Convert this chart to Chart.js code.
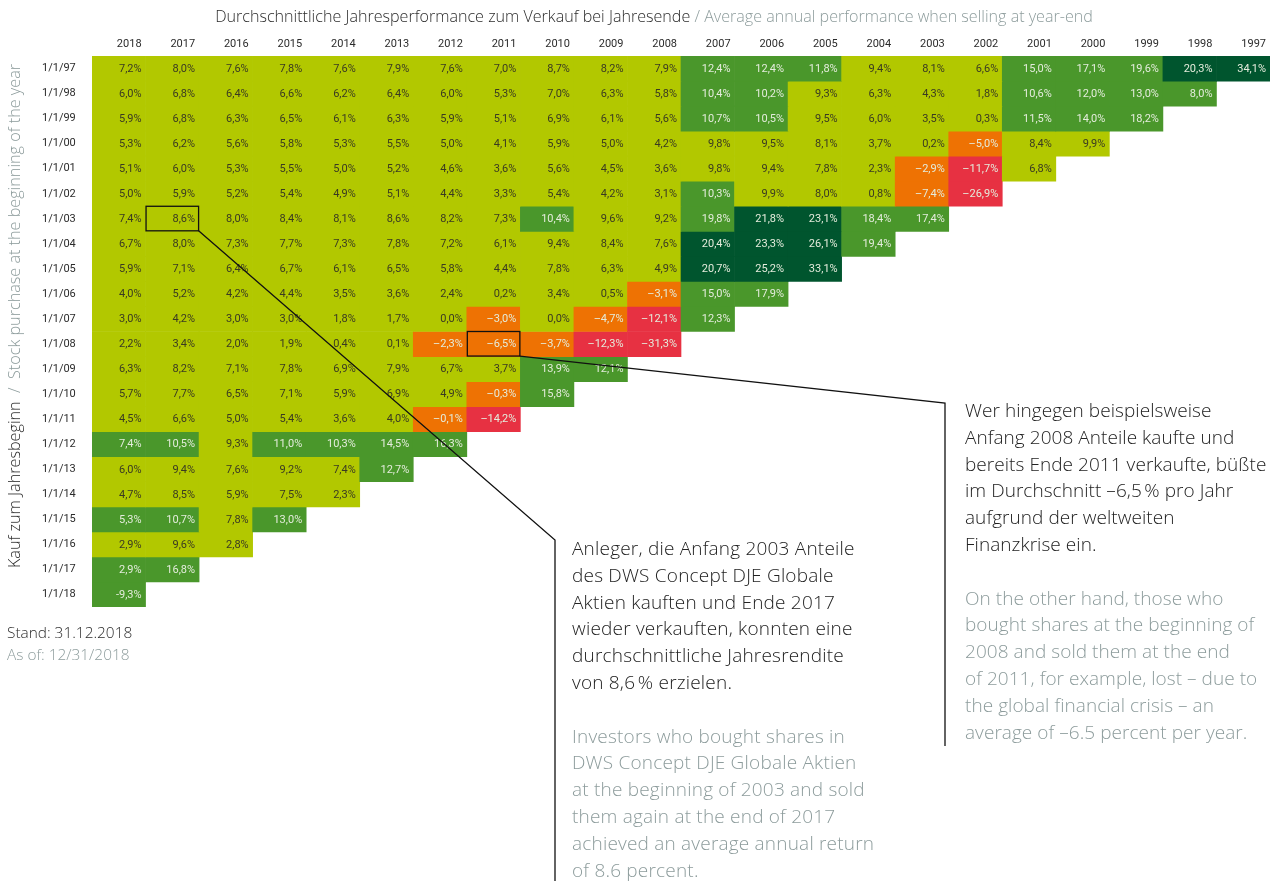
<!DOCTYPE html>
<html>
<head>
<meta charset="utf-8">
<script src="https://cdn.jsdelivr.net/npm/chart.js@4.4.1/dist/chart.umd.min.js"></script>
<style>
  html, body { margin: 0; padding: 0; background: #fff; }
  body { width: 1279px; height: 881px; position: relative; overflow: hidden; font-family: "Open Sans", Roboto, sans-serif; }
  #c { position: absolute; left: 0; top: 0; }
  .gray { color: #8d9c9c; }
  #title { position: absolute; left: 0; width: 1308px; top: 5px; text-align: center; font-size: 16.1px; font-weight: 300; color: #2b2b2b; white-space: nowrap; }
  #ytitle { position: absolute; left: -266px; top: 306px; width: 560px; height: 20px; line-height: 20px; text-align: center; font-size: 16.2px; font-weight: 300; transform: rotate(-90deg); transform-origin: 50% 50%; white-space: nowrap; color: #2b2b2b; }
  #stand { position: absolute; left: 7px; top: 622px; font-size: 15.4px; font-weight: 300; line-height: 22px; color: #2b2b2b; }
  .note { position: absolute; font-size: 19px; font-weight: 300; line-height: 26.8px; color: #222; white-space: nowrap; letter-spacing: 0.2px; }
  .note p { margin: 0 0 26.8px 0; }
  #note1 { left: 572px; top: 535px; }
  #note2 { left: 965px; top: 397px; letter-spacing: 0.05px; }
</style>
</head>
<body>
<canvas id="c" width="1279" height="881"></canvas>
<div id="title">Durchschnittliche Jahresperformance zum Verkauf bei Jahresende<span class="gray"> / Average annual performance when selling at year-end</span></div>
<div id="ytitle">Kauf zum Jahresbeginn<span class="gray">&nbsp; / &nbsp;Stock purchase at the beginning of the year</span></div>
<div id="stand">Stand: 31.12.2018<br><span class="gray">As of: 12/31/2018</span></div>
<div class="note" id="note1"><p>Anleger, die Anfang 2003 Anteile<br>des DWS Concept DJE Globale<br>Aktien kauften und Ende 2017<br>wieder verkauften, konnten eine<br>durchschnittliche Jahresrendite<br>von 8,6&#8239;% erzielen.</p><p class="gray">Investors who bought shares in<br>DWS Concept DJE Globale Aktien<br>at the beginning of 2003 and sold<br>them again at the end of 2017<br>achieved an average annual return<br>of 8.6 percent.</p></div>
<div class="note" id="note2"><p>Wer hingegen beispielsweise<br>Anfang 2008 Anteile kaufte und<br>bereits Ende 2011 verkaufte, büßte<br>im Durchschnitt –6,5&#8239;% pro Jahr<br>aufgrund der weltweiten<br>Finanzkrise ein.</p><p class="gray">On the other hand, those who<br>bought shares at the beginning of<br>2008 and sold them at the end<br>of 2011, for example, lost – due to<br>the global financial crisis – an<br>average of –6.5 percent per year.</p></div>
<script>
// Sell years (columns) and purchase dates (rows)
const sellYears = ['2018','2017','2016','2015','2014','2013','2012','2011','2010','2009','2008','2007','2006','2005','2004','2003','2002','2001','2000','1999','1998','1997'];
const buyLabels = ['1/1/97','1/1/98','1/1/99','1/1/00','1/1/01','1/1/02','1/1/03','1/1/04','1/1/05','1/1/06','1/1/07','1/1/08','1/1/09','1/1/10','1/1/11','1/1/12','1/1/13','1/1/14','1/1/15','1/1/16','1/1/17','1/1/18'];

// Average annual performance (%) per purchase year, ordered by sell year 2018 -> purchase year
const buy1997 = [7.2, 8.0, 7.6, 7.8, 7.6, 7.9, 7.6, 7.0, 8.7, 8.2, 7.9, 12.4, 12.4, 11.8, 9.4, 8.1, 6.6, 15.0, 17.1, 19.6, 20.3, 34.1];
const buy1998 = [6.0, 6.8, 6.4, 6.6, 6.2, 6.4, 6.0, 5.3, 7.0, 6.3, 5.8, 10.4, 10.2, 9.3, 6.3, 4.3, 1.8, 10.6, 12.0, 13.0, 8.0];
const buy1999 = [5.9, 6.8, 6.3, 6.5, 6.1, 6.3, 5.9, 5.1, 6.9, 6.1, 5.6, 10.7, 10.5, 9.5, 6.0, 3.5, 0.3, 11.5, 14.0, 18.2];
const buy2000 = [5.3, 6.2, 5.6, 5.8, 5.3, 5.5, 5.0, 4.1, 5.9, 5.0, 4.2, 9.8, 9.5, 8.1, 3.7, 0.2, -5.0, 8.4, 9.9];
const buy2001 = [5.1, 6.0, 5.3, 5.5, 5.0, 5.2, 4.6, 3.6, 5.6, 4.5, 3.6, 9.8, 9.4, 7.8, 2.3, -2.9, -11.7, 6.8];
const buy2002 = [5.0, 5.9, 5.2, 5.4, 4.9, 5.1, 4.4, 3.3, 5.4, 4.2, 3.1, 10.3, 9.9, 8.0, 0.8, -7.4, -26.9];
const buy2003 = [7.4, 8.6, 8.0, 8.4, 8.1, 8.6, 8.2, 7.3, 10.4, 9.6, 9.2, 19.8, 21.8, 23.1, 18.4, 17.4];
const buy2004 = [6.7, 8.0, 7.3, 7.7, 7.3, 7.8, 7.2, 6.1, 9.4, 8.4, 7.6, 20.4, 23.3, 26.1, 19.4];
const buy2005 = [5.9, 7.1, 6.4, 6.7, 6.1, 6.5, 5.8, 4.4, 7.8, 6.3, 4.9, 20.7, 25.2, 33.1];
const buy2006 = [4.0, 5.2, 4.2, 4.4, 3.5, 3.6, 2.4, 0.2, 3.4, 0.5, -3.1, 15.0, 17.9];
const buy2007 = [3.0, 4.2, 3.0, 3.0, 1.8, 1.7, 0.0, -3.0, 0.0, -4.7, -12.1, 12.3];
const buy2008 = [2.2, 3.4, 2.0, 1.9, 0.4, 0.1, -2.3, -6.5, -3.7, -12.3, -31.3];
const buy2009 = [6.3, 8.2, 7.1, 7.8, 6.9, 7.9, 6.7, 3.7, 13.9, 12.1];
const buy2010 = [5.7, 7.7, 6.5, 7.1, 5.9, 6.9, 4.9, -0.3, 15.8];
const buy2011 = [4.5, 6.6, 5.0, 5.4, 3.6, 4.0, -0.1, -14.2];
const buy2012 = [7.4, 10.5, 9.3, 11.0, 10.3, 14.5, 16.3];
const buy2013 = [6.0, 9.4, 7.6, 9.2, 7.4, 12.7];
const buy2014 = [4.7, 8.5, 5.9, 7.5, 2.3];
const buy2015 = [5.3, 10.7, 7.8, 13.0];
const buy2016 = [2.9, 9.6, 2.8];
const buy2017 = [2.9, 16.8];
const buy2018 = [-9.3];

const rows = [buy1997, buy1998, buy1999, buy2000, buy2001, buy2002, buy2003, buy2004, buy2005, buy2006, buy2007,
              buy2008, buy2009, buy2010, buy2011, buy2012, buy2013, buy2014, buy2015, buy2016, buy2017, buy2018];

// Cells shown in mid green in the original regardless of value [rowIndex, colIndex]
const greenOverrides = [[1, 20], [15, 0], [18, 0], [20, 0], [21, 0]];

// Highlighted cells with callout lines
const callouts = [
  { row: 6, col: 1, elbowX: 555, elbowY: 540, endY: 881 },
  { row: 11, col: 7, elbowX: 945, elbowY: 403, endY: 746 }
];

const COLORS = { dark: '#00552e', mid: '#4a972b', lime: '#b2c800', orange: '#ee7203', red: '#e73142' };

function band(r, c) {
  if (greenOverrides.some(o => o[0] === r && o[1] === c)) return 'mid';
  const v = rows[r][c];
  if (v >= 20) return 'dark';
  if (v >= 10) return 'mid';
  if (v >= 0) return 'lime';
  if (v > -10) return 'orange';
  return 'red';
}
function fmt(v, r) {
  const s = Math.abs(v).toFixed(1).replace('.', ',');
  const minus = r === rows.length - 1 ? '-' : '–';
  return (v < 0 ? minus : '') + s + '%';
}

const datasets = rows.map((vals, r) => ({
  label: buyLabels[r],
  data: sellYears.map((_, c) => c < vals.length ? [r, r + 1] : null),
  backgroundColor: ctx => COLORS[band(r, ctx.dataIndex)],
  borderWidth: 0,
  grouped: false,
  barPercentage: 1,
  categoryPercentage: 1
}));

const cellPlugin = {
  id: 'cells',
  afterDatasetsDraw(chart) {
    const ctx = chart.ctx;
    ctx.save();
    ctx.font = '11px Roboto';
    ctx.textAlign = 'right';
    ctx.textBaseline = 'middle';
    rows.forEach((vals, r) => {
      const meta = chart.getDatasetMeta(r);
      vals.forEach((v, c) => {
        const el = meta.data[c];
        if (!el) return;
        const p = el.getProps(['x', 'y', 'base', 'width'], true);
        const b = band(r, c);
        ctx.fillStyle = b === 'lime' ? '#3a3a22' : '#e4ecdc';
        ctx.fillText(fmt(v, r), p.x + p.width / 2 - 4, (p.y + p.base) / 2 + 0.5);
      });
    });
    ctx.strokeStyle = '#111';
    ctx.lineWidth = 1.3;
    callouts.forEach(co => {
      const el = chart.getDatasetMeta(co.row).data[co.col];
      const p = el.getProps(['x', 'y', 'base', 'width'], true);
      const left = p.x - p.width / 2, right = p.x + p.width / 2;
      const top = Math.min(p.y, p.base), bottom = Math.max(p.y, p.base);
      ctx.strokeRect(left + 0.5, top, p.width - 1, bottom - top - 0.5);
      ctx.beginPath();
      ctx.moveTo(right - 0.5, bottom - 0.5);
      ctx.lineTo(co.elbowX, co.elbowY);
      ctx.lineTo(co.elbowX, co.endY);
      ctx.stroke();
    });
    ctx.restore();
  }
};

new Chart(document.getElementById('c'), {
  type: 'bar',
  data: { labels: sellYears, datasets },
  options: {
    responsive: false,
    animation: false,
    layout: { padding: { left: 42, right: 9, top: 0, bottom: 274 } },
    plugins: { legend: { display: false }, tooltip: { enabled: false } },
    scales: {
      x: {
        type: 'category',
        position: 'top',
        grid: { display: false, drawTicks: false },
        border: { display: false },
        ticks: { color: '#2b2b2b', font: { family: 'Roboto', size: 11 }, padding: 5, maxRotation: 0, autoSkip: false, align: 'end', labelOffset: 22.8 },
        afterFit: s => { s.height = 56; }
      },
      y: {
        type: 'linear',
        min: 0,
        max: buyLabels.length,
        reverse: true,
        grid: { display: false, drawTicks: false },
        border: { display: false },
        afterBuildTicks: s => { s.ticks = buyLabels.map((_, i) => ({ value: i + 0.5 })); },
        ticks: {
          autoSkip: false,
          crossAlign: 'far',
          color: '#2b2b2b',
          font: { family: 'Roboto', size: 11 },
          callback: v => buyLabels[Math.floor(v)]
        },
        afterFit: s => { s.width = 50; }
      }
    }
  },
  plugins: [cellPlugin]
});
</script>
</body>
</html>
